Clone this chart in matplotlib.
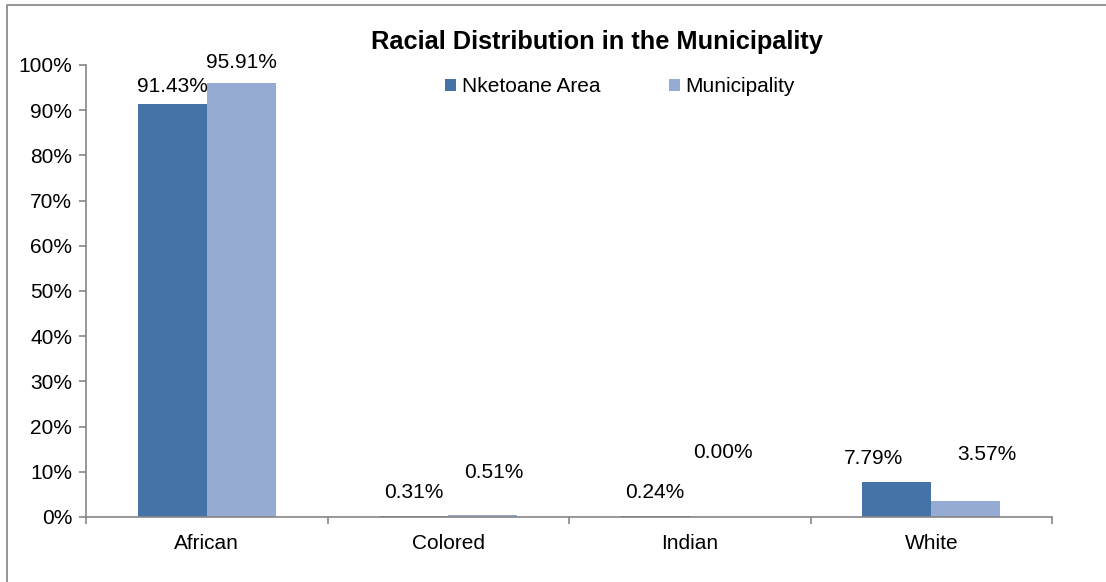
import matplotlib
matplotlib.use("Agg")
import matplotlib.pyplot as plt
from matplotlib.lines import Line2D
from matplotlib.ticker import FuncFormatter, MultipleLocator
import numpy as np

categories = ["African", "Colored", "Indian", "White"]
nketoane = [91.43, 0.31, 0.24, 7.79]
municipality = [95.91, 0.51, 0.00, 3.57]
series_names = ["Nketoane Area", "Municipality"]
title = "Racial Distribution in the Municipality"

# label offsets in pixels (dx, dy) from bar top centre (style only)
off_n = [(0, 17), (0, 23.5), (0, 23), (-23.5, 23)]
off_m = [(0, 20.5), (11, 42.5), (-1.5, 64), (21, 46)]

plt.rcParams['font.family'] = ['Liberation Sans', 'DejaVu Sans']
dark = '#4572A7'
light = '#96ABD3'
axis_col = '#868686'
fs = 15

fig = plt.figure(figsize=(11.06, 5.82), dpi=100)
# chart-area border: only left and top edges visible (cropped)
fig.add_artist(Line2D([6.5/1106, 6.5/1106, 1.0], [0.0, 1 - 4.5/582, 1 - 4.5/582],
                      transform=fig.transFigure, color='#8C8C8C', linewidth=1.3))
ax = fig.add_axes([86/1106, 1 - 517/582, 966/1106, 452/582])

x = np.arange(len(categories))
w = 69 / 241.5
b1 = ax.bar(x - w/2, nketoane, w, color=dark, label=series_names[0])
b2 = ax.bar(x + w/2, municipality, w, color=light, label=series_names[1])

for bars, vals, offs in ((b1, nketoane, off_n), (b2, municipality, off_m)):
    for r, v, (dx, dy) in zip(bars, vals, offs):
        ax.annotate(f"{v:.2f}%", (r.get_x() + r.get_width()/2, r.get_height()),
                    xytext=(dx, dy), textcoords='offset pixels',
                    ha='center', va='center', fontsize=fs, color='black')

ax.set_xlim(-0.5, len(categories) - 0.5)
ax.set_ylim(0, 100)
ax.yaxis.set_major_locator(MultipleLocator(10))
ax.yaxis.set_major_formatter(FuncFormatter(lambda v, p: f"{v:.0f}%"))
ax.set_xticks(x)
ax.set_xticklabels(categories)
ax.set_xticks(np.arange(-0.5, len(categories)), minor=True)
ax.tick_params(axis='x', which='major', length=0, pad=12, labelsize=fs)
ax.tick_params(axis='x', which='minor', length=5, color=axis_col, width=1.2)
ax.tick_params(axis='y', length=5, color=axis_col, width=1.2, labelsize=fs, pad=5)
for s in ['top', 'right']:
    ax.spines[s].set_visible(False)
for s in ['left', 'bottom']:
    ax.spines[s].set_color(axis_col)
    ax.spines[s].set_linewidth(1.2)

fig.text(597/1106, 1 - 42/582, title, ha='center', va='center',
         fontsize=18.3, fontweight='bold')
fig.legend(handles=[b1, b2], labels=series_names, loc='center left',
           bbox_to_anchor=(445/1106, 1 - 87/582), ncol=2, frameon=False,
           borderpad=0, borderaxespad=0,
           fontsize=fs, handlelength=0.55, handleheight=0.55, handletextpad=0.25,
           columnspacing=3.3)

fig.savefig("out.png", dpi=100)
